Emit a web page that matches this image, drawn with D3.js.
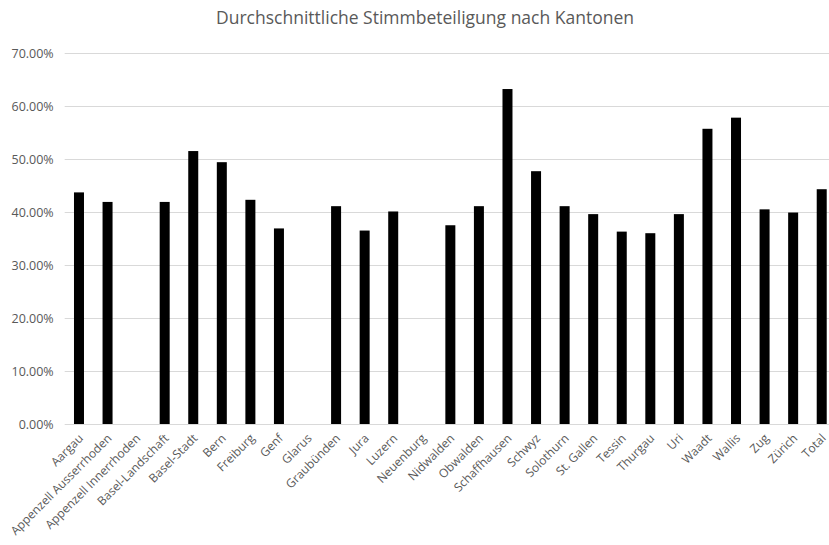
<!DOCTYPE html>
<html>
<head>
<meta charset="utf-8">
<script src="https://cdn.jsdelivr.net/npm/d3@7"></script>
<style>
  html, body { margin: 0; padding: 0; background: #fff; }
  svg { display: block; font-family: "Open Sans", sans-serif; }
</style>
</head>
<body>
<svg id="chart" width="829" height="545"></svg>
<script>
const title = "Durchschnittliche Stimmbeteiligung nach Kantonen";
const categories = ["Aargau","Appenzell Ausserrhoden","Appenzell Innerrhoden","Basel-Landschaft","Basel-Stadt","Bern","Freiburg","Genf","Glarus","Graubünden","Jura","Luzern","Neuenburg","Nidwalden","Obwalden","Schaffhausen","Schwyz","Solothurn","St. Gallen","Tessin","Thurgau","Uri","Waadt","Wallis","Zug","Zürich","Total"];
const values = [0.437,0.419,null,0.419,0.515,0.494,0.423,0.369,null,0.411,0.365,0.401,null,0.375,0.411,0.632,0.477,0.411,0.396,0.363,0.360,0.396,0.557,0.578,0.405,0.399,0.443];
const yTicks = [0,0.1,0.2,0.3,0.4,0.5,0.6,0.7];

const svg = d3.select("#chart");
const x = d3.scaleBand().domain(categories).range([64.7, 836]).paddingInner(0.65).paddingOuter(0.325);
const y = d3.scaleLinear().domain([0, 0.7]).range([424, 53]);

svg.append("text")
  .attr("x", 425).attr("y", 24)
  .attr("text-anchor", "middle")
  .attr("font-size", 17.5)
  .attr("fill", "#595959")
  .text(title);

const yAxis = svg.append("g").attr("transform", "translate(64.7,0)")
  .call(d3.axisLeft(y).tickValues(yTicks).tickFormat(d3.format(".2%")).tickSize(-(836 - 64.7)).tickPadding(11));
yAxis.select(".domain").remove();
yAxis.selectAll(".tick line").attr("stroke", "#d9d9d9").attr("stroke-width", 1);
yAxis.selectAll(".tick text").attr("fill", "#595959").attr("font-size", 12.5).attr("font-family", "Open Sans, sans-serif");

svg.append("g").selectAll("rect")
  .data(categories.map((c, i) => ({c, v: values[i]})).filter(d => d.v != null))
  .join("rect")
  .attr("x", d => x(d.c))
  .attr("width", x.bandwidth())
  .attr("y", d => y(d.v))
  .attr("height", d => y(0) - y(d.v))
  .attr("fill", "#000");

svg.append("g").selectAll("text")
  .data(categories)
  .join("text")
  .attr("transform", d => `translate(${x(d) + x.bandwidth() / 2 + 2},${y(0) + 12}) rotate(-45)`)
  .attr("text-anchor", "end")
  .attr("dy", "0.35em")
  .attr("font-size", 12)
  .attr("fill", "#595959")
  .text(d => d);
</script>
</body>
</html>
